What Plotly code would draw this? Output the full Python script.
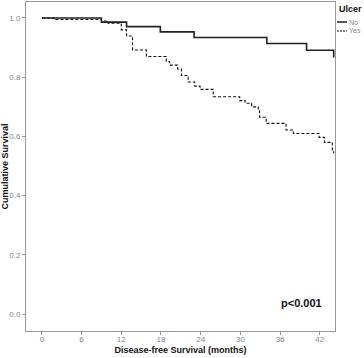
import plotly.graph_objects as go

# Kaplan-Meier step data (months, cumulative survival)
no_time = [0, 9.0, 12.8, 17.9, 23.0, 34.0, 40.0, 44.1]
no_surv = [1.0, 0.986, 0.971, 0.953, 0.934, 0.914, 0.891, 0.867]

yes_time = [0, 2.0, 9.0, 10.0, 12.0, 12.8, 13.7, 15.8, 18.8, 19.3, 20.5, 21.1, 22.1,
            23.1, 23.9, 25.9, 29.9, 30.7, 31.7, 32.7, 32.9, 33.9, 36.9, 38.0, 41.9,
            42.7, 43.9, 44.1]
yes_surv = [1.0, 0.995, 0.990, 0.982, 0.960, 0.939, 0.892, 0.870, 0.853, 0.841, 0.828,
            0.806, 0.784, 0.770, 0.759, 0.734, 0.721, 0.712, 0.700, 0.689, 0.665, 0.644,
            0.622, 0.610, 0.597, 0.580, 0.548, 0.543]

x_ticks = [0, 6, 12, 18, 24, 30, 36, 42]
y_ticks = [0.0, 0.2, 0.4, 0.6, 0.8, 1.0]
y_tick_labels = ["0.0", "0.2", "0.4", "0.6", "0.8", "1.0"]

legend_title = "Ulcer"
groups = ["No", "Yes"]

FONT = "Liberation Sans, Arial, sans-serif"
W, H = 364, 358
L, R, T, B = 26, 29, 2, 27
PW, PH = W - L - R, H - T - B


def px(xpix):
    return (xpix - L) / PW


def py(ypix):
    return (H - B - ypix) / PH


fig = go.Figure()
fig.add_trace(go.Scatter(x=no_time, y=no_surv, mode="lines", line_shape="hv",
                         line=dict(color="#222222", width=1.6), name=groups[0],
                         showlegend=False))
fig.add_trace(go.Scatter(x=yes_time, y=yes_surv, mode="lines", line_shape="hv",
                         line=dict(color="#111111", width=1.1, dash="3px,2px"),
                         name=groups[1], showlegend=False))

fig.update_layout(
    width=W, height=H,
    margin=dict(l=L, r=R, t=T, b=B),
    paper_bgcolor="white", plot_bgcolor="white",
    font=dict(family=FONT, size=8, color="#888888"),
    xaxis=dict(range=[-2.4, 44.3], tickvals=x_ticks, showgrid=False, zeroline=False,
               showline=True, linecolor="#999999", linewidth=1, mirror=True,
               ticks="outside", ticklen=3, tickcolor="#999999", automargin=False,
               ticklabelstandoff=-3,
               tickfont=dict(size=8, color="#888888"),
               title=dict(text="<b>Disease-free Survival (months)</b>",
                          font=dict(size=9, color="#111111"), standoff=4)),
    yaxis=dict(range=[-0.057, 1.054], tickvals=y_ticks, ticktext=y_tick_labels,
               showgrid=False, zeroline=False, automargin=False,
               showline=True, linecolor="#999999", linewidth=1, mirror=True,
               ticks="outside", ticklen=3, tickcolor="#999999",
               tickfont=dict(size=8, color="#888888"),
               title=dict(text="<b>Cumulative Survival</b>",
                          font=dict(size=9, color="#111111"), standoff=2)),
)

fig.add_annotation(x=39.3, y=0.037, xref="x", yref="y", text="<b>p<0.001</b>",
                   showarrow=False, font=dict(size=11, color="#111111", family=FONT))

# compact legend at right
fig.add_annotation(x=px(337), y=py(9), xref="paper", yref="paper",
                   text=f"<b>{legend_title}</b>", showarrow=False,
                   xanchor="left", yanchor="middle",
                   font=dict(size=9, color="#111111", family=FONT))
for i, (g, dash, w) in enumerate(zip(groups, ["solid", "2px,1px"], [1.4, 1.0])):
    yy = py(22 + 9 * i)
    fig.add_annotation(x=px(347), y=yy, xref="paper", yref="paper", text=g,
                       showarrow=False, xanchor="left", yanchor="middle",
                       font=dict(size=7, color="#888888", family=FONT))
    fig.add_shape(type="line", xref="paper", yref="paper",
                  x0=px(337), x1=px(347), y0=yy, y1=yy,
                  line=dict(color="#111111", width=w, dash=dash))

fig.write_html("out.html", config={"displayModeBar": False},
               post_script="document.body.style.margin='0';")
